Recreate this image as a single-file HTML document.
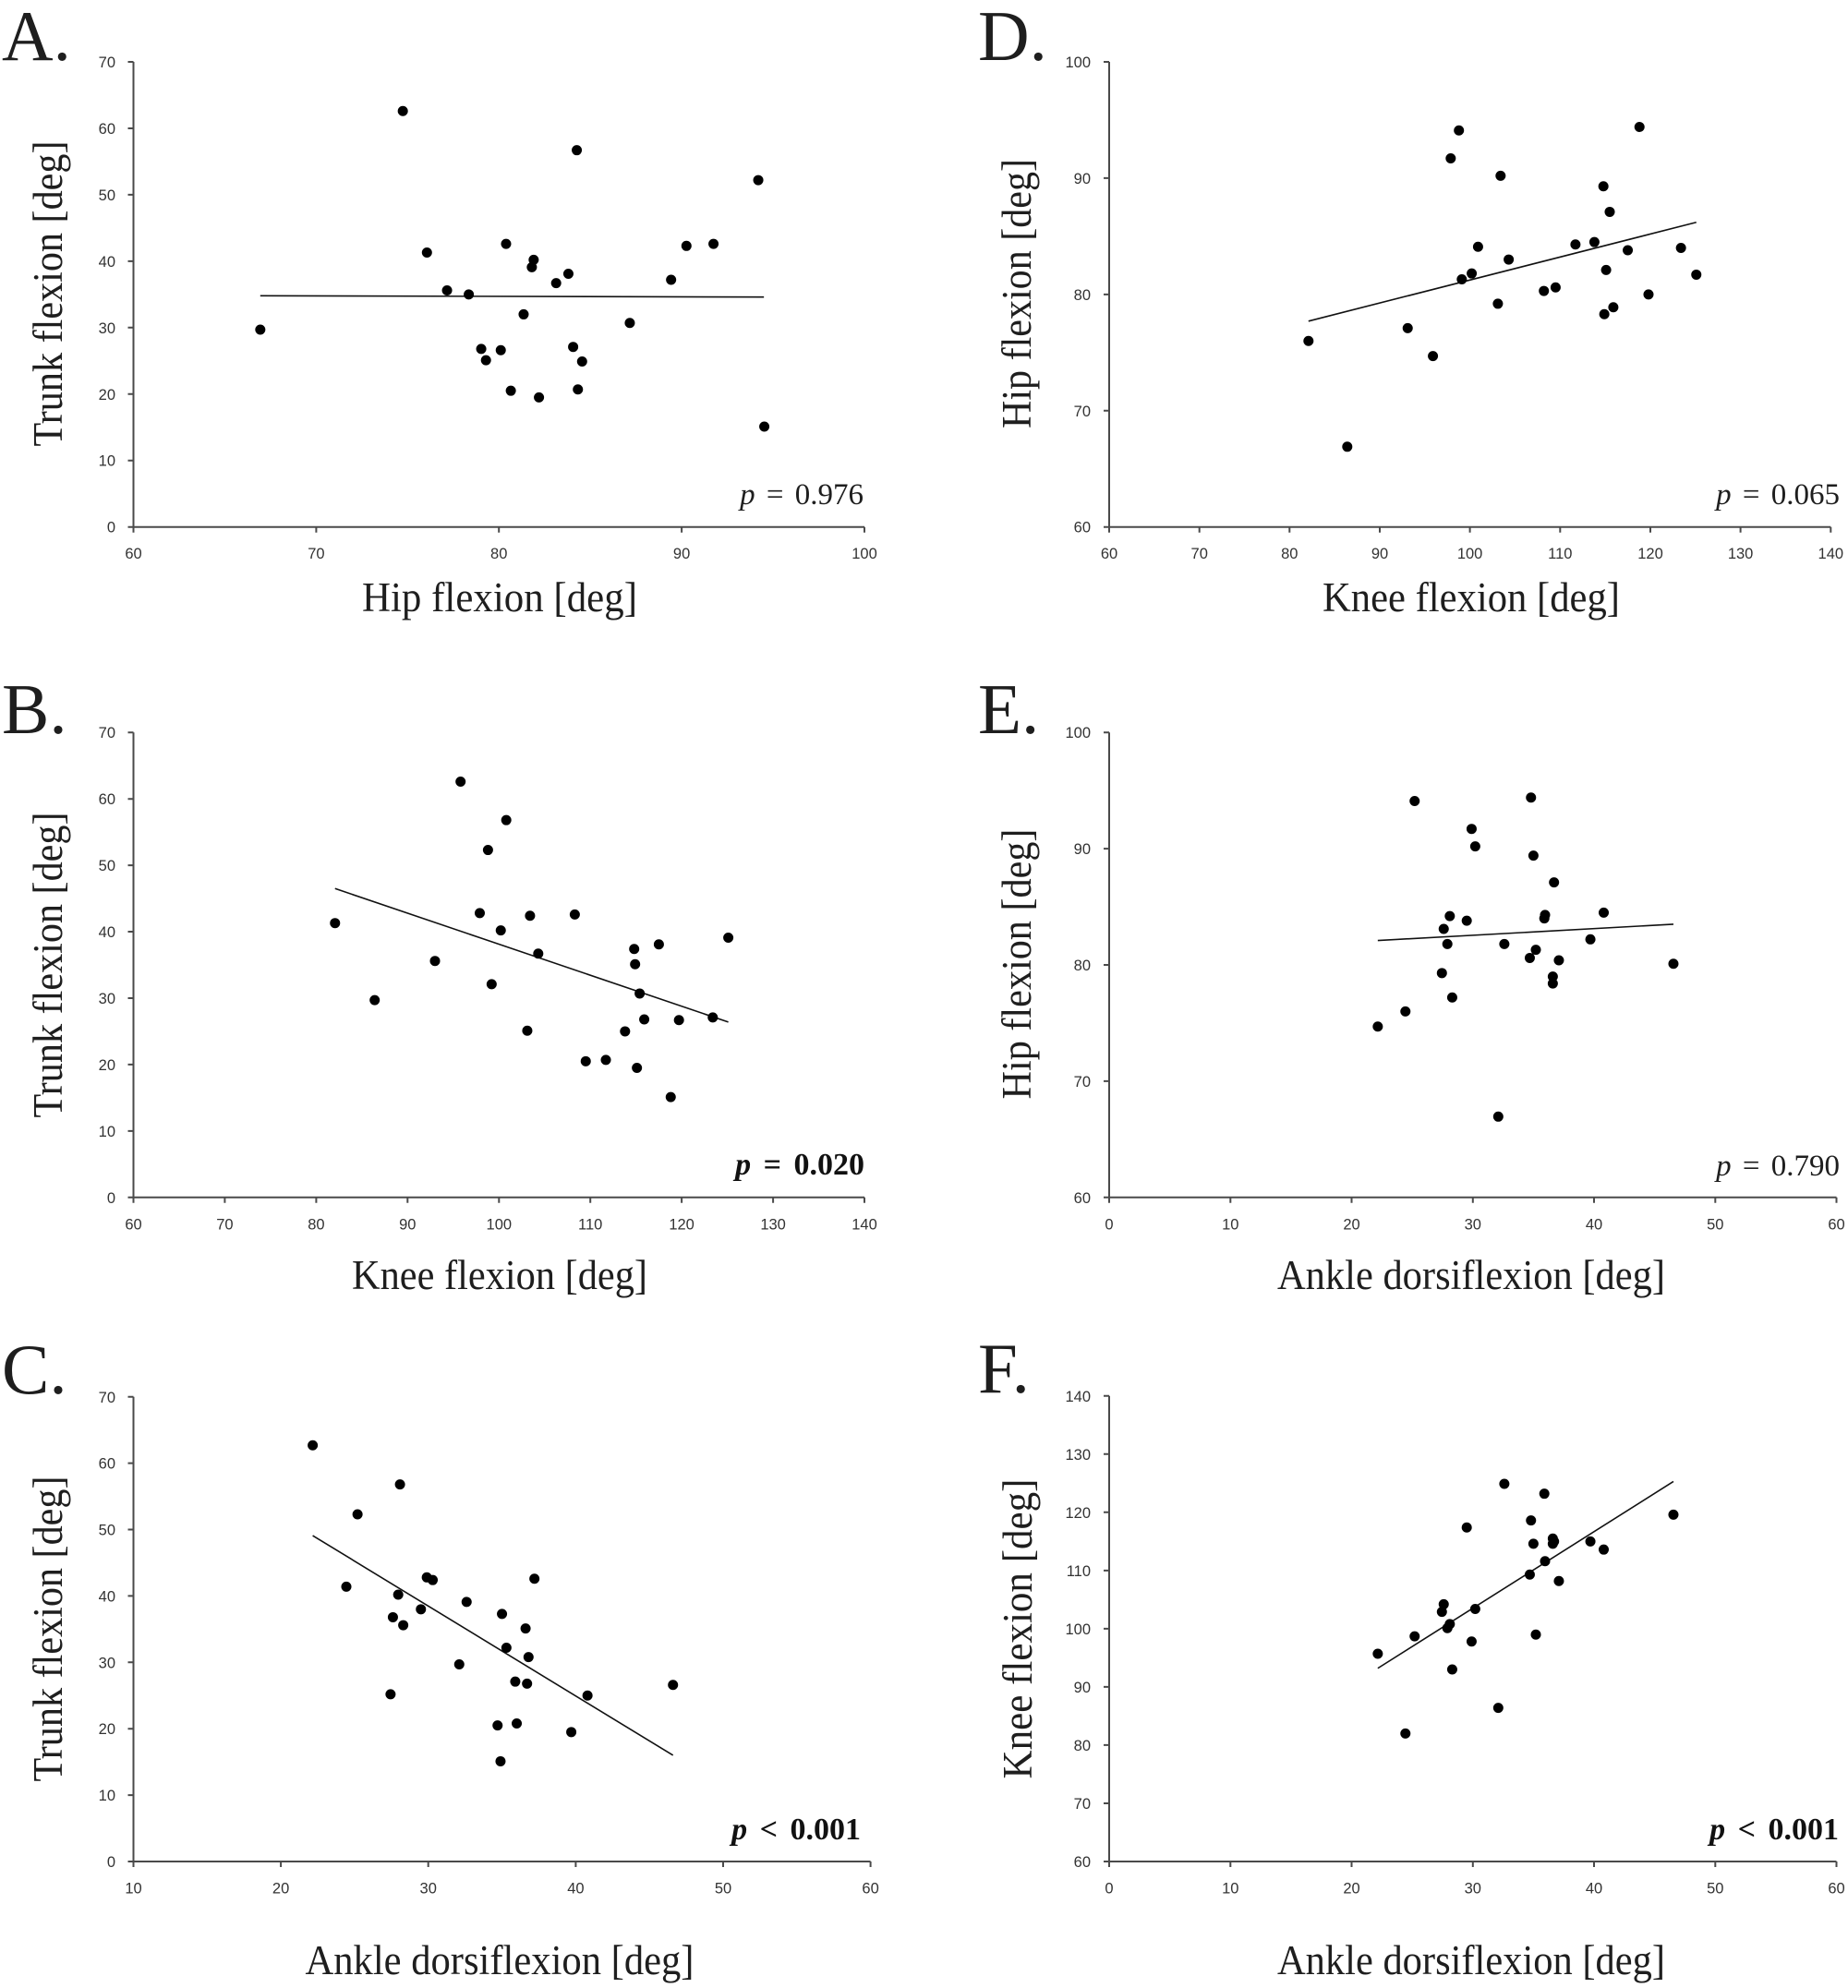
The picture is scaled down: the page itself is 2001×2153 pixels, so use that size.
<!DOCTYPE html>
<html>
<head>
<meta charset="utf-8">
<style>
html,body{margin:0;padding:0;background:#fff;}
svg{display:block;}
.ax{stroke:#4a4a4a;stroke-width:2;fill:none;}
.tk{font-family:"Liberation Sans",sans-serif;font-size:16.5px;fill:#333;}
.tky{text-anchor:end;}
.tkx{text-anchor:middle;}
.ttl{font-family:"Liberation Serif",serif;font-size:45px;fill:#1e1e1e;}
.let{font-family:"Liberation Serif",serif;font-size:77px;fill:#1e1e1e;}
.pv{font-family:"Liberation Serif",serif;font-size:33px;fill:#1e1e1e;word-spacing:4px;}
.pvb{font-family:"Liberation Serif",serif;font-size:34px;font-weight:bold;fill:#111;word-spacing:5px;}
.dots{stroke:#000;stroke-width:11;stroke-linecap:round;fill:none;vector-effect:non-scaling-stroke;}
.reg{stroke:#111;stroke-width:1.6;fill:none;vector-effect:non-scaling-stroke;}
</style>
</head>
<body>
<svg width="2001" height="2153" viewBox="0 0 2001 2153" xmlns="http://www.w3.org/2000/svg">
<rect width="2001" height="2153" fill="#fff"/>

<!-- ================= Panel A ================= -->
<text class="let" x="2" y="65">A.</text>
<path class="ax" d="M144.5 67V570.7H936
M138.5 570.7h6M138.5 498.7h6M138.5 426.8h6M138.5 354.8h6M138.5 282.9h6M138.5 210.9h6M138.5 139h6M138.5 67h6
M144.5 570.7v6M342.4 570.7v6M540.2 570.7v6M738.1 570.7v6M936 570.7v6"/>
<g class="tk tky">
<text x="125" y="576.7">0</text><text x="125" y="504.7">10</text><text x="125" y="432.8">20</text><text x="125" y="360.8">30</text>
<text x="125" y="288.9">40</text><text x="125" y="216.9">50</text><text x="125" y="145">60</text><text x="125" y="73">70</text>
</g>
<g class="tk tkx">
<text x="144.5" y="605">60</text><text x="342.4" y="605">70</text><text x="540.2" y="605">80</text><text x="738.1" y="605">90</text><text x="936" y="605">100</text>
</g>
<text class="ttl" transform="translate(67,318) rotate(-90)" text-anchor="middle" textLength="331" lengthAdjust="spacingAndGlyphs">Trunk flexion [deg]</text>
<text class="ttl" x="541" y="662" text-anchor="middle" textLength="298" lengthAdjust="spacingAndGlyphs">Hip flexion [deg]</text>
<text class="pv" x="935" y="546" text-anchor="end"><tspan font-style="italic">p</tspan> = 0.976</text>
<g transform="matrix(19.7875 0 0 -7.196 -1042.75 570.7)">
<path class="reg" d="M66.94 34.8L94.5 34.6"/>
<path class="dots" d="M66.94 29.7h0.001M74.74 62.6h0.001M76.06 41.3h0.001M77.16 35.6h0.001M78.35 35h0.001M79.03 26.8h0.001M79.29 25.1h0.001M80.1 26.6h0.001M80.39 42.6h0.001M80.65 20.5h0.001M81.35 32h0.001M81.8 39.1h0.001M81.9 40.2h0.001M82.19 19.5h0.001M83.13 36.7h0.001M83.8 38.1h0.001M84.06 27.1h0.001M84.26 56.7h0.001M84.32 20.7h0.001M84.55 24.9h0.001M87.16 30.7h0.001M89.42 37.2h0.001M90.26 42.3h0.001M91.74 42.6h0.001M94.19 52.2h0.001M94.52 15.1h0.001"/>
</g>

<!-- ================= Panel B ================= -->
<text class="let" x="2" y="794">B.</text>
<path class="ax" d="M144.5 793.2V1296.8H936
M138.5 1296.8h6M138.5 1224.9h6M138.5 1152.9h6M138.5 1081h6M138.5 1009h6M138.5 937.1h6M138.5 865.2h6M138.5 793.2h6
M144.5 1296.8v6M243.4 1296.8v6M342.4 1296.8v6M441.3 1296.8v6M540.3 1296.8v6M639.2 1296.8v6M738.1 1296.8v6M837.1 1296.8v6M936 1296.8v6"/>
<g class="tk tky">
<text x="125" y="1302.8">0</text><text x="125" y="1230.9">10</text><text x="125" y="1158.9">20</text><text x="125" y="1087">30</text>
<text x="125" y="1015">40</text><text x="125" y="943.1">50</text><text x="125" y="871.2">60</text><text x="125" y="799.2">70</text>
</g>
<g class="tk tkx">
<text x="144.5" y="1331.5">60</text><text x="243.4" y="1331.5">70</text><text x="342.4" y="1331.5">80</text><text x="441.3" y="1331.5">90</text><text x="540.3" y="1331.5">100</text><text x="639.2" y="1331.5">110</text><text x="738.1" y="1331.5">120</text><text x="837.1" y="1331.5">130</text><text x="936" y="1331.5">140</text>
</g>
<text class="ttl" transform="translate(67,1045) rotate(-90)" text-anchor="middle" textLength="331" lengthAdjust="spacingAndGlyphs">Trunk flexion [deg]</text>
<text class="ttl" x="541" y="1396" text-anchor="middle" textLength="320" lengthAdjust="spacingAndGlyphs">Knee flexion [deg]</text>
<text class="pvb" x="936" y="1272" text-anchor="end"><tspan font-style="italic">p</tspan> = 0.020</text>
<g transform="matrix(9.894 0 0 -7.194 -449.14 1296.8)">
<path class="reg" d="M82.06 46.5L125.1 26.4"/>
<path class="dots" d="M82.06 41.3h0.001M86.4 29.7h0.001M93 35.6h0.001M95.8 62.6h0.001M97.9 42.8h0.001M98.8 52.3h0.001M99.2 32.1h0.001M100.2 40.2h0.001M100.8 56.8h0.001M103.1 25.1h0.001M103.4 42.4h0.001M104.3 36.7h0.001M108.3 42.6h0.001M109.5 20.5h0.001M111.7 20.7h0.001M113.8 25h0.001M114.8 37.4h0.001M114.9 35.1h0.001M115.1 19.5h0.001M115.4 30.7h0.001M115.9 26.8h0.001M117.5 38.1h0.001M118.8 15.1h0.001M119.7 26.7h0.001M123.4 27.1h0.001M125.1 39.1h0.001"/>
</g>

<!-- ================= Panel C ================= -->
<text class="let" x="2" y="1509">C.</text>
<path class="ax" d="M144.5 1512.8V2016H942.6
M138.5 2016h6M138.5 1944.1h6M138.5 1872.2h6M138.5 1800.3h6M138.5 1728.4h6M138.5 1656.5h6M138.5 1584.6h6M138.5 1512.8h6
M144.5 2016v6M304.1 2016v6M463.7 2016v6M623.4 2016v6M783 2016v6M942.6 2016v6"/>
<g class="tk tky">
<text x="125" y="2022">0</text><text x="125" y="1950.1">10</text><text x="125" y="1878.2">20</text><text x="125" y="1806.3">30</text>
<text x="125" y="1734.4">40</text><text x="125" y="1662.5">50</text><text x="125" y="1590.6">60</text><text x="125" y="1518.8">70</text>
</g>
<g class="tk tkx">
<text x="144.5" y="2050.5">10</text><text x="304.1" y="2050.5">20</text><text x="463.7" y="2050.5">30</text><text x="623.4" y="2050.5">40</text><text x="783" y="2050.5">50</text><text x="942.6" y="2050.5">60</text>
</g>
<text class="ttl" transform="translate(67,1764) rotate(-90)" text-anchor="middle" textLength="331" lengthAdjust="spacingAndGlyphs">Trunk flexion [deg]</text>
<text class="ttl" x="541" y="2138" text-anchor="middle" textLength="421" lengthAdjust="spacingAndGlyphs">Ankle dorsiflexion [deg]</text>
<text class="pvb" x="932" y="1992" text-anchor="end"><tspan font-style="italic">p</tspan> &lt; 0.001</text>
<g transform="matrix(15.962 0 0 -7.189 -15.12 2016)">
<path class="reg" d="M22.16 49.1L46.6 16"/>
<path class="dots" d="M22.16 62.7h0.001M24.44 41.4h0.001M25.2 52.3h0.001M27.44 25.2h0.001M27.6 36.8h0.001M27.96 40.2h0.001M28.08 56.8h0.001M28.3 35.6h0.001M29.5 38h0.001M29.9 42.8h0.001M30.3 42.4h0.001M32.1 29.7h0.001M32.6 39.1h0.001M34.7 20.5h0.001M34.9 15.1h0.001M35 37.3h0.001M35.3 32.2h0.001M35.9 27.1h0.001M36 20.8h0.001M36.6 35.1h0.001M36.7 26.8h0.001M36.8 30.8h0.001M37.2 42.6h0.001M39.7 19.5h0.001M40.8 25h0.001M46.6 26.6h0.001"/>
</g>

<!-- ================= Panel D ================= -->
<text class="let" x="1059" y="65">D.</text>
<path class="ax" d="M1201 67V570.7H1982.3
M1195 570.7h6M1195 444.8h6M1195 318.9h6M1195 192.9h6M1195 67h6
M1201 570.7v6M1298.7 570.7v6M1396.3 570.7v6M1494 570.7v6M1591.6 570.7v6M1689.3 570.7v6M1787 570.7v6M1884.6 570.7v6M1982.3 570.7v6"/>
<g class="tk tky">
<text x="1181" y="576.7">60</text><text x="1181" y="450.8">70</text><text x="1181" y="324.9">80</text><text x="1181" y="198.9">90</text><text x="1181" y="73">100</text>
</g>
<g class="tk tkx">
<text x="1201" y="605">60</text><text x="1298.7" y="605">70</text><text x="1396.3" y="605">80</text><text x="1494" y="605">90</text><text x="1591.6" y="605">100</text><text x="1689.3" y="605">110</text><text x="1787" y="605">120</text><text x="1884.6" y="605">130</text><text x="1982.3" y="605">140</text>
</g>
<text class="ttl" transform="translate(1116,318) rotate(-90)" text-anchor="middle" textLength="292" lengthAdjust="spacingAndGlyphs">Hip flexion [deg]</text>
<text class="ttl" x="1593" y="662" text-anchor="middle" textLength="322" lengthAdjust="spacingAndGlyphs">Knee flexion [deg]</text>
<text class="pv" x="1992" y="546" text-anchor="end"><tspan font-style="italic">p</tspan> = 0.065</text>
<g transform="matrix(9.766 0 0 -12.5925 615.02 1326.25)">
<path class="reg" d="M82.1 77.7L125.1 86.2"/>
<path class="dots" d="M82.1 76h0.001M86.4 66.9h0.001M93.1 77.1h0.001M95.9 74.7h0.001M97.87 91.7h0.001M98.78 94.1h0.001M99.1 81.3h0.001M100.2 81.8h0.001M100.9 84.1h0.001M103.1 79.2h0.001M103.4 90.2h0.001M104.3 83h0.001M108.2 80.3h0.001M109.5 80.6h0.001M111.7 84.3h0.001M113.8 84.5h0.001M114.8 89.3h0.001M114.9 78.3h0.001M115.1 82.1h0.001M115.5 87.1h0.001M115.9 78.9h0.001M117.5 83.8h0.001M118.8 94.4h0.001M119.8 80h0.001M123.4 84h0.001M125.1 81.7h0.001"/>
</g>

<!-- ================= Panel E ================= -->
<text class="let" x="1059" y="794">E.</text>
<path class="ax" d="M1201 793.2V1296.8H1988.5
M1195 1296.8h6M1195 1170.9h6M1195 1045h6M1195 919.1h6M1195 793.2h6
M1201 1296.8v6M1332.3 1296.8v6M1463.5 1296.8v6M1594.8 1296.8v6M1726 1296.8v6M1857.3 1296.8v6M1988.5 1296.8v6"/>
<g class="tk tky">
<text x="1181" y="1302.8">60</text><text x="1181" y="1176.9">70</text><text x="1181" y="1051">80</text><text x="1181" y="925.1">90</text><text x="1181" y="799.2">100</text>
</g>
<g class="tk tkx">
<text x="1201" y="1331.5">0</text><text x="1332.3" y="1331.5">10</text><text x="1463.5" y="1331.5">20</text><text x="1594.8" y="1331.5">30</text><text x="1726" y="1331.5">40</text><text x="1857.3" y="1331.5">50</text><text x="1988.5" y="1331.5">60</text>
</g>
<text class="ttl" transform="translate(1116,1044) rotate(-90)" text-anchor="middle" textLength="293" lengthAdjust="spacingAndGlyphs">Hip flexion [deg]</text>
<text class="ttl" x="1593" y="1396" text-anchor="middle" textLength="420" lengthAdjust="spacingAndGlyphs">Ankle dorsiflexion [deg]</text>
<text class="pv" x="1992" y="1273" text-anchor="end"><tspan font-style="italic">p</tspan> = 0.790</text>
<g transform="matrix(13.125 0 0 -12.59 1201 2052.2)">
<path class="reg" d="M22.16 82.1L46.55 83.5"/>
<path class="dots" d="M22.16 74.7h0.001M24.44 76h0.001M25.2 94.1h0.001M27.45 79.3h0.001M27.6 83.1h0.001M27.9 81.8h0.001M28.1 84.2h0.001M28.3 77.2h0.001M29.5 83.8h0.001M29.9 91.7h0.001M30.2 90.2h0.001M32.1 66.95h0.001M32.6 81.8h0.001M34.7 80.6h0.001M34.8 94.4h0.001M35 89.4h0.001M35.2 81.3h0.001M35.9 84h0.001M35.96 84.3h0.001M36.6 78.4h0.001M36.6 79h0.001M36.7 87.1h0.001M37.1 80.4h0.001M39.7 82.2h0.001M40.8 84.5h0.001M46.55 80.1h0.001"/>
</g>

<!-- ================= Panel F ================= -->
<text class="let" x="1059" y="1508">F.</text>
<path class="ax" d="M1201 1511.8V2016H1988.5
M1195 2016h6M1195 1953h6M1195 1889.9h6M1195 1826.9h6M1195 1763.9h6M1195 1700.9h6M1195 1637.8h6M1195 1574.8h6M1195 1511.8h6
M1201 2016v6M1332.3 2016v6M1463.5 2016v6M1594.8 2016v6M1726 2016v6M1857.3 2016v6M1988.5 2016v6"/>
<g class="tk tky">
<text x="1181" y="2022">60</text><text x="1181" y="1959">70</text><text x="1181" y="1895.9">80</text><text x="1181" y="1832.9">90</text>
<text x="1181" y="1769.9">100</text><text x="1181" y="1706.9">110</text><text x="1181" y="1643.8">120</text><text x="1181" y="1580.8">130</text><text x="1181" y="1517.8">140</text>
</g>
<g class="tk tkx">
<text x="1201" y="2050.5">0</text><text x="1332.3" y="2050.5">10</text><text x="1463.5" y="2050.5">20</text><text x="1594.8" y="2050.5">30</text><text x="1726" y="2050.5">40</text><text x="1857.3" y="2050.5">50</text><text x="1988.5" y="2050.5">60</text>
</g>
<text class="ttl" transform="translate(1117,1764) rotate(-90)" text-anchor="middle" textLength="325" lengthAdjust="spacingAndGlyphs">Knee flexion [deg]</text>
<text class="ttl" x="1593" y="2138" text-anchor="middle" textLength="420" lengthAdjust="spacingAndGlyphs">Ankle dorsiflexion [deg]</text>
<text class="pvb" x="1991" y="1992" text-anchor="end"><tspan font-style="italic">p</tspan> &lt; 0.001</text>
<g transform="matrix(13.125 0 0 -6.3025 1201 2394.15)">
<path class="reg" d="M22.16 93.2L46.55 125.3"/>
<path class="dots" d="M22.16 95.7h0.001M24.44 82h0.001M25.2 98.7h0.001M27.45 102.9h0.001M27.6 104.2h0.001M27.9 100.1h0.001M28.1 100.8h0.001M28.3 93h0.001M29.5 117.4h0.001M29.9 97.8h0.001M30.2 103.4h0.001M32.1 86.4h0.001M32.6 124.9h0.001M34.7 109.3h0.001M34.8 118.6h0.001M35 114.6h0.001M35.2 99h0.001M35.9 123.2h0.001M35.96 111.6h0.001M36.6 114.6h0.001M36.6 115.5h0.001M36.7 115h0.001M37.1 108.2h0.001M39.7 115h0.001M40.8 113.6h0.001M46.55 119.6h0.001"/>
</g>

</svg>
</body>
</html>
